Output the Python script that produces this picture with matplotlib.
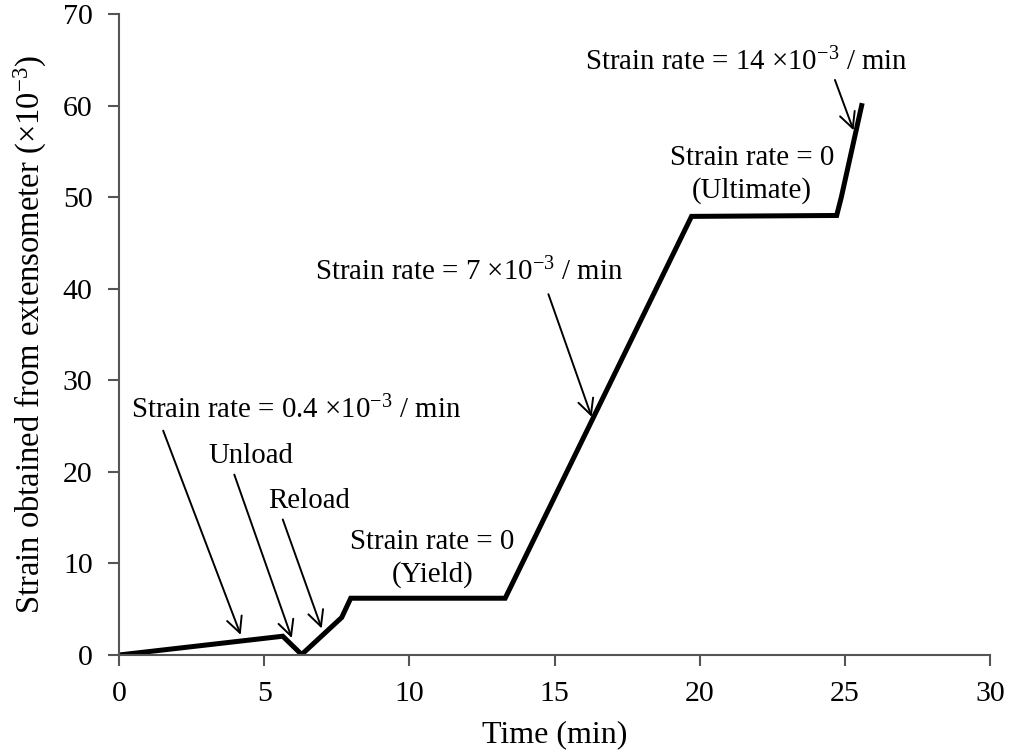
import matplotlib
matplotlib.use('Agg')
import matplotlib.pyplot as plt

plt.rcParams['font.family'] = ['Liberation Serif', 'DejaVu Serif']
plt.rcParams['mathtext.fontset'] = 'custom'
plt.rcParams['mathtext.rm'] = 'Liberation Serif'
plt.rcParams['mathtext.it'] = 'Liberation Serif:italic'

# curve (time in min, strain x1e-3)
time = [0, 5.64, 6.29, 7.67, 7.98, 13.3, 19.72, 24.72, 24.88, 25.58]
strain = [0, 2.05, 0.05, 4.1, 6.2, 6.2, 47.9, 48.0, 50.0, 60.0]

# annotations: label, text position, arrow tail, arrow head
labels = ['Strain rate = 0.4 ×10$^{\\mathregular{-3}}$ / min',
          'Unload',
          'Reload',
          'Strain rate = 0\n(Yield)',
          'Strain rate = 7 ×10$^{\\mathregular{-3}}$ / min',
          'Strain rate = 0\n(Ultimate)',
          'Strain rate = 14 ×10$^{\\mathregular{-3}}$ / min']
label_xy = [(6.1, 26.7), (4.53, 21.7), (6.53, 16.85), (10.8, 10.5),
            (12.05, 41.8), (21.8, 52.5), (21.6, 64.8)]
arrow_tail = [(1.52, 24.5), (3.97, 19.7), (5.64, 14.8), None,
              (14.79, 39.4), None, (24.66, 62.8)]
arrow_head = [(4.19, 2.2), (5.95, 1.85), (6.98, 2.9), None,
              (16.28, 26.0), None, (25.3, 57.3)]

fig = plt.figure(figsize=(10.14, 7.54), dpi=100)
ax = fig.add_axes([0.1174, 0.1313, 0.8589, 0.8501])

ax.plot(time, strain, color='black', lw=3.6, solid_joinstyle='miter')

for lab, xy, tail, head in zip(labels, label_xy, arrow_tail, arrow_head):
    ax.text(xy[0], xy[1], lab, ha='center', va='center', fontsize=20.8,
            linespacing=1.3)
    if tail is not None:
        ax.annotate('', xy=head, xytext=tail,
                    arrowprops=dict(arrowstyle='->', color='black', lw=1.4,
                                    mutation_scale=28, shrinkA=0, shrinkB=0))

ax.set_xlim(0, 30)
ax.set_ylim(0, 70)
ax.set_xticks(range(0, 31, 5))
ax.set_yticks(range(0, 71, 10))
ax.spines['top'].set_visible(False)
ax.spines['right'].set_visible(False)
for s in ['left', 'bottom']:
    ax.spines[s].set_color('#555555')
    ax.spines[s].set_linewidth(1.5)
ax.tick_params(direction='out', length=8, width=1.5, color='#555555',
               labelsize=21.5, pad=11)
ax.set_xlabel('Time (min)', fontsize=23, labelpad=9)
ax.set_ylabel('Strain obtained from extensometer (×10$^{\\mathregular{-3}}$)',
              fontsize=23.5, labelpad=10)

fig.savefig('out.png', dpi=100)
